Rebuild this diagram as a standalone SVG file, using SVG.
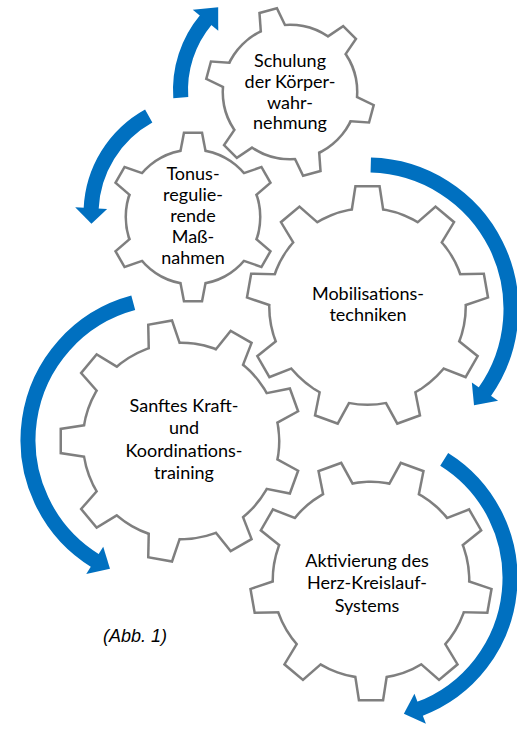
<svg xmlns="http://www.w3.org/2000/svg" xmlns:xlink="http://www.w3.org/1999/xlink" width="517" height="731" viewBox="0 0 517 731">
<style>
.st{fill:none;stroke:#7f7f7f;stroke-width:5;stroke-linejoin:miter}
.fl{fill:#ffffff;stroke:none}
.lbl{font-family:Lato,"Open Sans","DejaVu Sans",sans-serif;font-size:18px;fill:#000000;text-anchor:middle}
.band{fill:none;stroke:#0070C0;stroke-width:15;stroke-linecap:butt}
.head{fill:#0070C0;stroke:none}
.cap{font-family:"Liberation Sans",Arial,sans-serif;font-size:18px;font-style:italic;fill:#000000}
</style>
<defs>
<polygon id="t9" points="-15,-93 -11,-119 11,-119 15,-93"/>
<polygon id="t6" points="-12,-62 -8,-83 8,-83 12,-62"/>
<g id="g9a">
<circle r="97"/>
<use xlink:href="#t9" transform="rotate(0)"/><use xlink:href="#t9" transform="rotate(40)"/><use xlink:href="#t9" transform="rotate(80)"/><use xlink:href="#t9" transform="rotate(120)"/><use xlink:href="#t9" transform="rotate(160)"/><use xlink:href="#t9" transform="rotate(200)"/><use xlink:href="#t9" transform="rotate(240)"/><use xlink:href="#t9" transform="rotate(280)"/><use xlink:href="#t9" transform="rotate(320)"/>
</g>
<g id="g6a">
<circle r="66"/>
<use xlink:href="#t6" transform="rotate(0)"/><use xlink:href="#t6" transform="rotate(60)"/><use xlink:href="#t6" transform="rotate(120)"/><use xlink:href="#t6" transform="rotate(180)"/><use xlink:href="#t6" transform="rotate(240)"/><use xlink:href="#t6" transform="rotate(300)"/>
</g>
</defs>
<rect width="517" height="731" fill="#ffffff"/>

<g id="gear-schulung">
<use xlink:href="#g6a" class="st" transform="translate(290,92) rotate(45)"/>
<use xlink:href="#g6a" class="fl" transform="translate(290,92) rotate(45)"/>
<text class="lbl"><tspan x="290" y="67">Schulung</tspan><tspan x="290" y="88">der Körper-</tspan><tspan x="290" y="108.5">wahr-</tspan><tspan x="290" y="129">nehmung</tspan></text>
</g>

<g id="gear-tonus">
<use xlink:href="#g6a" class="st" transform="translate(193,217)"/>
<use xlink:href="#g6a" class="fl" transform="translate(193,217)"/>
<text class="lbl"><tspan x="193" y="180">Tonus-</tspan><tspan x="193" y="201">regulie-</tspan><tspan x="193" y="222">rende</tspan><tspan x="193" y="242.5">Maß-</tspan><tspan x="193" y="263.5">nahmen</tspan></text>
</g>

<g id="gear-mobilisation">
<use xlink:href="#g9a" class="st" transform="translate(367.5,306.5)"/>
<use xlink:href="#g9a" class="fl" transform="translate(367.5,306.5)"/>
<text class="lbl"><tspan x="368" y="300">Mobilisations-</tspan><tspan x="368" y="321">techniken</tspan></text>
</g>

<g id="gear-sanftes">
<use xlink:href="#g9a" class="st" transform="translate(181,441) rotate(30)"/>
<use xlink:href="#g9a" class="fl" transform="translate(181,441) rotate(30)"/>
<text class="lbl"><tspan x="184" y="411.5">Sanftes Kraft-</tspan><tspan x="184" y="434">und</tspan><tspan x="184" y="456.5">Koordinations-</tspan><tspan x="184" y="479">training</tspan></text>
</g>

<g id="gear-aktivierung">
<use xlink:href="#g9a" class="st" transform="translate(371,580) rotate(20)"/>
<use xlink:href="#g9a" class="fl" transform="translate(371,580) rotate(20)"/>
<text class="lbl"><tspan x="367" y="566.5">Aktivierung des</tspan><tspan x="367" y="589">Herz-Kreislauf-</tspan><tspan x="367" y="611.5">Systems</tspan></text>
</g>

<g id="connectors">
<path class="band" d="M180.77,97.64 A109.5,109.5 0 0 1 206.12,19.61"/>
<polygon class="head" points="218.24,30.84 192.78,9.85 218.16,7.36"/>
<path class="band" d="M148.7,116.0 A112,112 0 0 0 91.11,209.11"/>
<polygon class="head" points="107.13,208.98 75.18,207.30 91.43,223.76"/>
<path class="band" d="M370.77,165.05 A144,144 0 0 1 484.23,392.62"/>
<polygon class="head" points="471.85,382.42 498.06,400.77 474.01,405.35"/>
<path class="band" d="M133.25,302.84 A142,142 0 0 0 95.80,561.07"/>
<polygon class="head" points="103.23,546.85 86.27,573.99 109.99,568.70"/>
<path class="band" d="M444.19,459.27 A140,140 0 0 1 419.03,709.13"/>
<polygon class="head" points="414.44,693.76 425.91,723.64 403.87,713.84"/>
</g>

<text class="cap" x="103" y="642">(Abb. 1)</text>
</svg>
